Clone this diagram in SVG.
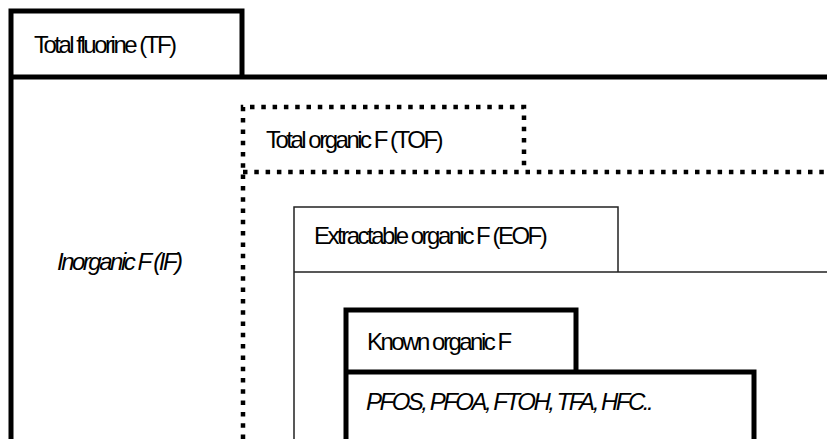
<svg xmlns="http://www.w3.org/2000/svg" width="827" height="439" viewBox="0 0 827 439">
<style>
.t{font-family:"Liberation Sans",Arial,sans-serif;font-size:24px;letter-spacing:-2.5px;fill:#000}
.i{font-style:italic}
.thick{fill:none;stroke:#000;stroke-width:5}
.dot{fill:none;stroke:#000;stroke-width:4.5;stroke-dasharray:4.5 6.8}
.thin{fill:none;stroke:#222;stroke-width:1.5}
</style>
<rect width="827" height="439" fill="#fff"/>
<g id="tf">
<path class="thick" d="M11,439 V11 H242 V77 M11,77 H827"/>
<text class="t" x="34" y="53">Total fluorine (TF)</text>
</g>
<g id="if">
<text class="t i" x="57" y="270">Inorganic F (IF)</text>
</g>
<g id="tof">
<path class="dot" d="M243,439 V107 H524 V172"/>
<path class="dot" d="M243,172 H827"/>
<text class="t" x="266" y="148">Total organic F (TOF)</text>
</g>
<g id="eof">
<path class="thin" d="M294,439 V207 H618 V272 M294,272 H827"/>
<text class="t" x="314" y="244">Extractable organic F (EOF)</text>
</g>
<g id="known">
<path class="thick" d="M346,439 V310 H576 V372 M346,372 H754 V439"/>
<text class="t" x="367" y="350">Known organic F</text>
<text class="t i" x="366" y="410">PFOS, PFOA, FTOH, TFA, HFC..</text>
</g>
<g id="connectors"></g>
</svg>
